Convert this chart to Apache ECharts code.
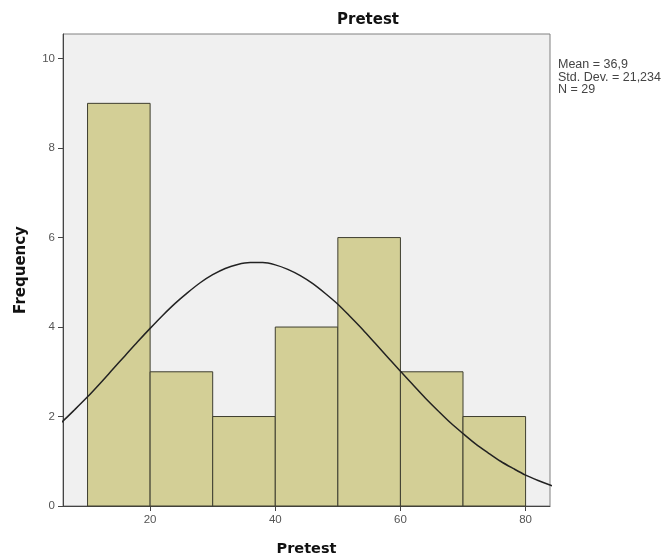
<!DOCTYPE html>
<html>
<head>
<meta charset="utf-8">
<script src="https://cdn.jsdelivr.net/npm/echarts@6/dist/echarts.min.js"></script>
<style>html,body{margin:0;padding:0;background:#fff;}#c{width:668px;height:560px;}</style>
</head>
<body>
<div id="c"></div>
<script>
// Histogram bins (lower edge, upper edge) and frequencies
const binStarts = [10, 20, 30, 40, 50, 60, 70];
const binEnds   = [20, 30, 40, 50, 60, 70, 80];
const frequencies = [9, 3, 2, 4, 6, 3, 2];
// Normal curve
const curveX = [4, 6, 8, 10, 12, 14, 16, 18, 20, 22, 24, 26, 28, 30, 32, 34, 36, 38, 40, 42, 44, 46, 48, 50, 52, 54, 56, 58, 60, 62, 64, 66, 68, 70, 72, 74, 76, 78, 80, 82, 84, 86];
const curveY = [1.65, 1.89, 2.16, 2.44, 2.74, 3.05, 3.36, 3.67, 3.97, 4.26, 4.53, 4.77, 4.99, 5.17, 5.31, 5.40, 5.44, 5.44, 5.39, 5.29, 5.15, 4.97, 4.75, 4.51, 4.23, 3.94, 3.63, 3.32, 3.01, 2.71, 2.41, 2.13, 1.86, 1.62, 1.39, 1.19, 1.00, 0.84, 0.69, 0.57, 0.465, 0.37];
const xTicks = [20, 40, 60, 80];
const yTicks = [0, 2, 4, 6, 8, 10];
const statsLines = ['Mean = 36,9', 'Std. Dev. = 21,234', 'N = 29'];
const chartTitle = 'Pretest';
const xName = 'Pretest';
const yName = 'Frequency';

const barData = binStarts.map((s, i) => [s, binEnds[i], frequencies[i]]);
const curveData = curveX.map((x, i) => [x, curveY[i]]);

const chart = echarts.init(document.getElementById('c'), null, {renderer: 'canvas'});
const boldFont = '"DejaVu Sans", sans-serif';
const labelFont = '"Liberation Sans", Arial, sans-serif';

chart.setOption({
  animation: false,
  backgroundColor: '#ffffff',
  title: {
    text: chartTitle,
    left: 332, top: 8,
    textStyle: {fontFamily: boldFont, fontWeight: 'bold', fontSize: 15, color: '#111'}
  },
  grid: {
    left: 63, top: 34, right: 118, bottom: 54,
    outerBoundsMode: 'none',
    containLabel: false,
    show: true, backgroundColor: '#f0f0f0', borderColor: '#808080', borderWidth: 1
  },
  xAxis: {
    type: 'value', min: 6.08, max: 83.9,
    name: xName, nameLocation: 'middle', nameGap: 36,
    nameTextStyle: {fontFamily: boldFont, fontWeight: 'bold', fontSize: 14.5, color: '#111'},
    axisLine: {show: true, onZero: false, lineStyle: {color: '#444', width: 1}},
    axisTick: {show: true, length: 5, customValues: xTicks, lineStyle: {color: '#444'}},
    axisLabel: {customValues: xTicks, fontFamily: labelFont, fontSize: 11.5, color: '#555', margin: 8},
    splitLine: {show: false}
  },
  yAxis: {
    type: 'value', min: 0, max: 10.55,
    name: yName, nameLocation: 'middle', nameGap: 34, nameRotate: 90,
    nameTextStyle: {fontFamily: boldFont, fontWeight: 'bold', fontSize: 15, color: '#111'},
    axisLine: {show: true, onZero: false, lineStyle: {color: '#444', width: 1}},
    axisTick: {show: true, length: 5, customValues: yTicks, lineStyle: {color: '#444'}},
    axisLabel: {customValues: yTicks, fontFamily: labelFont, fontSize: 11.5, color: '#555', margin: 8},
    splitLine: {show: false}
  },
  series: [
    {
      type: 'custom',
      data: barData,
      encode: {x: [0, 1], y: 2},
      renderItem: function (params, api) {
        const p0 = api.coord([api.value(0), api.value(2)]);
        const p1 = api.coord([api.value(1), 0]);
        return {
          type: 'rect',
          shape: {x: p0[0], y: p0[1], width: p1[0] - p0[0], height: p1[1] - p0[1]},
          style: {fill: '#d3cf96', stroke: '#3e3e30', lineWidth: 1}
        };
      },
      z: 2
    },
    {
      type: 'line',
      data: curveData,
      smooth: 0.3,
      symbol: 'none',
      clip: true,
      lineStyle: {color: '#222', width: 1.5},
      z: 3
    }
  ],
  graphic: [
    {
      type: 'text', left: 558, top: 58,
      style: {
        text: statsLines.join('\n'),
        fontFamily: labelFont, fontSize: 12.5, lineHeight: 12.75, fill: '#444'
      }
    }
  ]
});
</script>
</body>
</html>
